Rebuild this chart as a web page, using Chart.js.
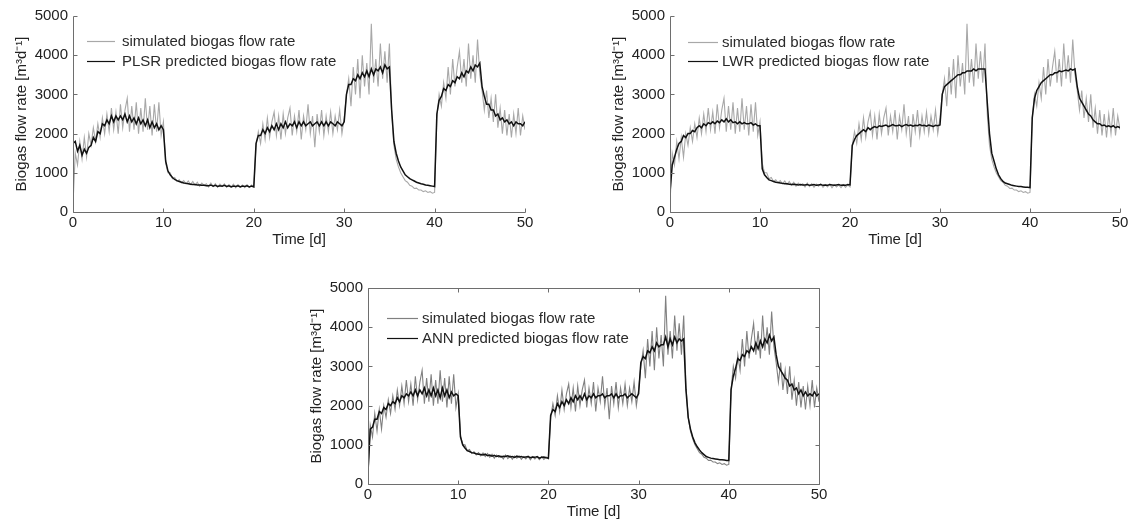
<!DOCTYPE html>
<html><head><meta charset="utf-8">
<script src="https://cdn.jsdelivr.net/npm/chart.js@4.4.1/dist/chart.umd.min.js"></script>
<style>
html,body{margin:0;padding:0;background:#fff;overflow:hidden;width:1131px;height:522px;position:relative;}
canvas{position:absolute;}
</style></head><body>
<canvas id="c1" width="560" height="262" style="left:0;top:0"></canvas>
<canvas id="c2" width="534" height="262" style="left:597px;top:0"></canvas>
<canvas id="c3" width="560" height="262" style="left:295px;top:272px"></canvas>
<script>
// time grid: samples every 0.25 d from 0 to 50 d
const T_STEP = 0.25;
const T_COUNT = 201;
const days = Array.from({length: T_COUNT}, (_, i) => i * T_STEP);

const xTicks = [0, 10, 20, 30, 40, 50];
const yTicks = [0, 1000, 2000, 3000, 4000, 5000];

const simulatedLabel = 'simulated biogas flow rate';
const plsrLabel = 'PLSR predicted biogas flow rate';
const lwrLabel = 'LWR predicted biogas flow rate';
const annLabel = 'ANN predicted biogas flow rate';
const xTitle = 'Time [d]';
const yTitle = 'Biogas flow rate [m³d⁻¹]';

const simulated = [
200,1500,1200,1800,1350,1900,1400,2000,1700,2150,
1800,2250,1900,2400,2000,2500,2050,2650,2100,2550,
2000,2750,2150,2600,2900,2050,2700,2100,2800,2000,
2650,2050,2900,2100,2700,1950,2750,2050,2800,1950,
2300,
1250,1000,1000,850,880,780,820,740,800,720,
790,700,780,680,760,660,740,680,720,640,
740,650,720,630,710,660,720,630,700,640,
710,620,700,640,690,620,700,630,690,640,
1700,2050,1750,2250,1850,2400,1900,2300,2550,1950,
2450,1850,2500,2000,2400,2650,1950,2450,2050,2600,
1850,2450,2100,2750,2000,2450,1650,2500,2050,2600,
1950,2450,2050,2550,2000,2450,2100,2600,2000,2400,
3000,3400,2700,3700,3000,3900,2900,4000,3200,3800,
3000,4800,3300,3900,3200,4300,3400,4100,3300,4300,
2500,1700,1350,1150,1000,900,800,760,680,660,
600,610,560,560,520,540,500,520,480,500,
2400,3000,2700,3300,2900,3700,3000,3900,3200,3700,
4100,3300,3900,3200,4300,3400,4000,3300,4400,3500,
3100,2600,3100,2400,2900,2300,3000,2150,2650,2000,
2600,1950,2500,1900,2500,2000,2650,1950,2450,2100
];

const plsrPredicted = [
1750,1800,1550,1700,1450,1600,1500,1650,1700,1900,
1800,2050,2000,2250,2200,2350,2250,2450,2300,2450,
2350,2450,2350,2500,2300,2450,2300,2400,2250,2400,
2250,2350,2200,2350,2150,2300,2150,2250,2100,2200,
2100,
1300,1050,950,880,830,800,780,760,740,730,
720,710,700,700,690,690,680,680,670,670,
690,660,680,650,670,660,680,650,670,640,
660,650,670,640,660,650,670,640,660,640,
1750,1950,1950,2100,2000,2150,2050,2200,2100,2250,
2100,2250,2150,2300,2150,2250,2200,2300,2150,2300,
2200,2300,2200,2250,2300,2200,2250,2300,2200,2300,
2200,2300,2200,2300,2250,2200,2300,2250,2200,2300,
3000,3250,3250,3400,3350,3500,3400,3550,3450,3600,
3450,3650,3500,3650,3600,3700,3550,3750,3650,3700,
2600,1800,1500,1300,1150,1050,950,900,850,820,
790,760,740,720,710,690,680,670,660,650,
2500,2850,2950,3150,3100,3250,3200,3350,3300,3450,
3400,3550,3450,3600,3550,3700,3600,3750,3700,3800,
3200,2950,2750,2750,2600,2600,2450,2500,2350,2400,
2300,2350,2250,2300,2200,2300,2250,2250,2200,2300
];

const lwrPredicted = [
500,1200,1400,1600,1750,1800,1950,1900,2000,2000,
2080,2050,2150,2200,2150,2250,2200,2280,2250,2300,
2250,2320,2280,2350,2300,2380,2300,2350,2280,2300,
2250,2300,2250,2280,2250,2250,2280,2220,2250,2200,
2200,
1100,950,880,820,800,780,760,750,740,730,
720,720,710,700,710,700,690,700,690,690,
700,680,690,700,680,690,700,680,690,680,
700,690,680,690,700,680,690,680,700,690,
1700,1850,1950,2000,2050,2100,2050,2150,2100,2150,
2180,2150,2200,2180,2200,2220,2180,2200,2230,2200,
2200,2220,2180,2210,2230,2200,2220,2190,2210,2200,
2230,2200,2210,2190,2220,2200,2180,2210,2200,2220,
3000,3200,3250,3300,3350,3400,3450,3500,3500,3550,
3550,3600,3600,3600,3650,3600,3650,3650,3650,3650,
2800,2000,1500,1300,1100,950,850,780,740,720,
700,680,670,660,650,650,640,630,630,620,
2400,2900,3100,3200,3300,3350,3400,3450,3500,3500,
3550,3550,3600,3580,3600,3620,3600,3650,3620,3650,
3200,2900,2800,2700,2600,2500,2450,2350,2300,2250,
2250,2200,2220,2180,2200,2170,2200,2150,2180,2150
];

const annPredicted = [
300,1400,1450,1650,1650,1850,1800,1950,1900,2050,
2000,2100,2050,2200,2100,2250,2200,2300,2250,2350,
2250,2400,2250,2400,2300,2450,2250,2400,2250,2450,
2250,2400,2200,2450,2250,2400,2200,2350,2250,2300,
2250,
1200,1000,920,850,830,800,790,770,760,750,
740,760,720,740,710,730,700,720,690,710,
700,720,690,700,680,710,690,700,680,690,
700,670,690,680,700,660,680,690,670,660,
1750,1900,1850,2050,1950,2100,2000,2150,2050,2200,
2100,2250,2150,2250,2150,2300,2150,2250,2200,2300,
2200,2250,2250,2300,2200,2250,2250,2300,2200,2300,
2200,2250,2250,2300,2200,2250,2300,2250,2200,2300,
3100,3250,3200,3400,3350,3500,3400,3600,3500,3550,
3550,3750,3500,3700,3550,3750,3600,3700,3650,3700,
2400,1700,1400,1200,1050,950,870,800,750,700,
680,660,650,640,630,620,620,610,600,600,
2400,2750,2950,3200,3150,3300,3250,3400,3350,3500,
3400,3600,3450,3650,3500,3700,3600,3800,3650,3750,
3300,3000,2900,2800,2700,2650,2500,2550,2400,2450,
2300,2400,2250,2350,2250,2300,2250,2350,2250,2300
];

const FONT = '"Liberation Sans", Arial, Helvetica, sans-serif';
const FS = 15;

const framePlugin = {
  id: 'frame',
  afterDatasetsDraw(chart, args, o) {
    const {ctx, chartArea: a, scales: {x, y}} = chart;
    ctx.save();
    ctx.strokeStyle = o.color;
    ctx.lineWidth = 1;
    const L = Math.round(a.left) + 0.5, R = Math.round(a.right) + 0.5;
    const T = Math.round(a.top) + 0.5, B = Math.round(a.bottom) + 0.5;
    ctx.beginPath();
    ctx.moveTo(L, T); ctx.lineTo(L, B); ctx.lineTo(R, B);
    if (o.box) { ctx.lineTo(R, T); ctx.lineTo(L, T); }
    x.ticks.forEach(t => {
      const px = Math.round(x.getPixelForValue(t.value)) + 0.5;
      ctx.moveTo(px, B); ctx.lineTo(px, B - o.len);
      if (o.box) { ctx.moveTo(px, T); ctx.lineTo(px, T + o.len); }
    });
    y.ticks.forEach(t => {
      const py = Math.round(y.getPixelForValue(t.value)) + 0.5;
      ctx.moveTo(L, py); ctx.lineTo(L + o.len, py);
      if (o.box) { ctx.moveTo(R, py); ctx.lineTo(R - o.len, py); }
    });
    ctx.stroke();
    ctx.restore();
  }
};

const legendPlugin = {
  id: 'insideLegend',
  afterDraw(chart, args, o) {
    const {ctx, chartArea: a} = chart;
    ctx.save();
    ctx.font = FS + 'px ' + FONT;
    ctx.textBaseline = 'middle';
    ctx.textAlign = 'left';
    chart.data.datasets.forEach((ds, i) => {
      const yy = Math.round(a.top + o.rows[i]) + 0.5;
      ctx.strokeStyle = ds.borderColor;
      ctx.lineWidth = 1.2;
      ctx.beginPath();
      ctx.moveTo(a.left + o.x0, yy);
      ctx.lineTo(a.left + o.x1, yy);
      ctx.stroke();
      ctx.fillStyle = '#2a2a2a';
      ctx.fillText(ds.label, a.left + o.tx, yy);
    });
    ctx.restore();
  }
};

function makePanel(id, predicted, predLabel, cfg) {
  const pts = arr => days.map((t, i) => ({x: t, y: arr[i]}));
  return new Chart(document.getElementById(id), {
    type: 'line',
    data: {
      datasets: [
        {label: simulatedLabel, data: pts(simulated), borderColor: cfg.simColor, borderWidth: 1.1, pointRadius: 0, order: 1},
        {label: predLabel, data: pts(predicted), borderColor: '#111111', borderWidth: 1.5, pointRadius: 0, order: 0}
      ]
    },
    options: {
      responsive: false,
      animation: false,
      events: [],
      layout: {padding: {top: 16, right: cfg.right, bottom: 0, left: 0}},
      plugins: {
        legend: {display: false},
        tooltip: {enabled: false},
        frame: {color: '#6e6e6e', len: 4, box: cfg.box},
        insideLegend: cfg.legend
      },
      scales: {
        x: {
          type: 'linear', min: 0, max: 50,
          afterBuildTicks: s => { s.ticks = xTicks.map(v => ({value: v})); },
          afterFit: s => { s.height = 50; },
          grid: {display: false, drawTicks: false},
          border: {display: false},
          ticks: {padding: 2, color: '#222', font: {family: FONT, size: FS}, maxRotation: 0, autoSkip: false, callback: v => String(v)},
          title: {display: true, text: xTitle, color: '#222', font: {family: FONT, size: FS}, padding: {top: 0, bottom: 13}}
        },
        y: {
          type: 'linear', min: 0, max: 5000,
          afterBuildTicks: s => { s.ticks = yTicks.map(v => ({value: v})); },
          afterFit: s => { s.width = 73; },
          grid: {display: false, drawTicks: false},
          border: {display: false},
          ticks: {padding: 5, color: '#222', font: {family: FONT, size: FS}, autoSkip: false, callback: v => String(v)},
          title: {display: true, text: yTitle, color: '#222', font: {family: FONT, size: FS}, padding: {top: 13, bottom: 0}}
        }
      }
    },
    plugins: [framePlugin, legendPlugin]
  });
}

makePanel('c1', plsrPredicted, plsrLabel, {right: 35, box: false, simColor: '#a8a8a8', legend: {x0: 14, x1: 42, tx: 49, rows: [25, 45]}});
makePanel('c2', lwrPredicted, lwrLabel, {right: 11, box: false, simColor: '#a8a8a8', legend: {x0: 18, x1: 48, tx: 52, rows: [26, 45]}});
makePanel('c3', annPredicted, annLabel, {right: 36, box: true, simColor: '#808080', legend: {x0: 19, x1: 50, tx: 54, rows: [30, 50]}});
</script>
</body></html>
